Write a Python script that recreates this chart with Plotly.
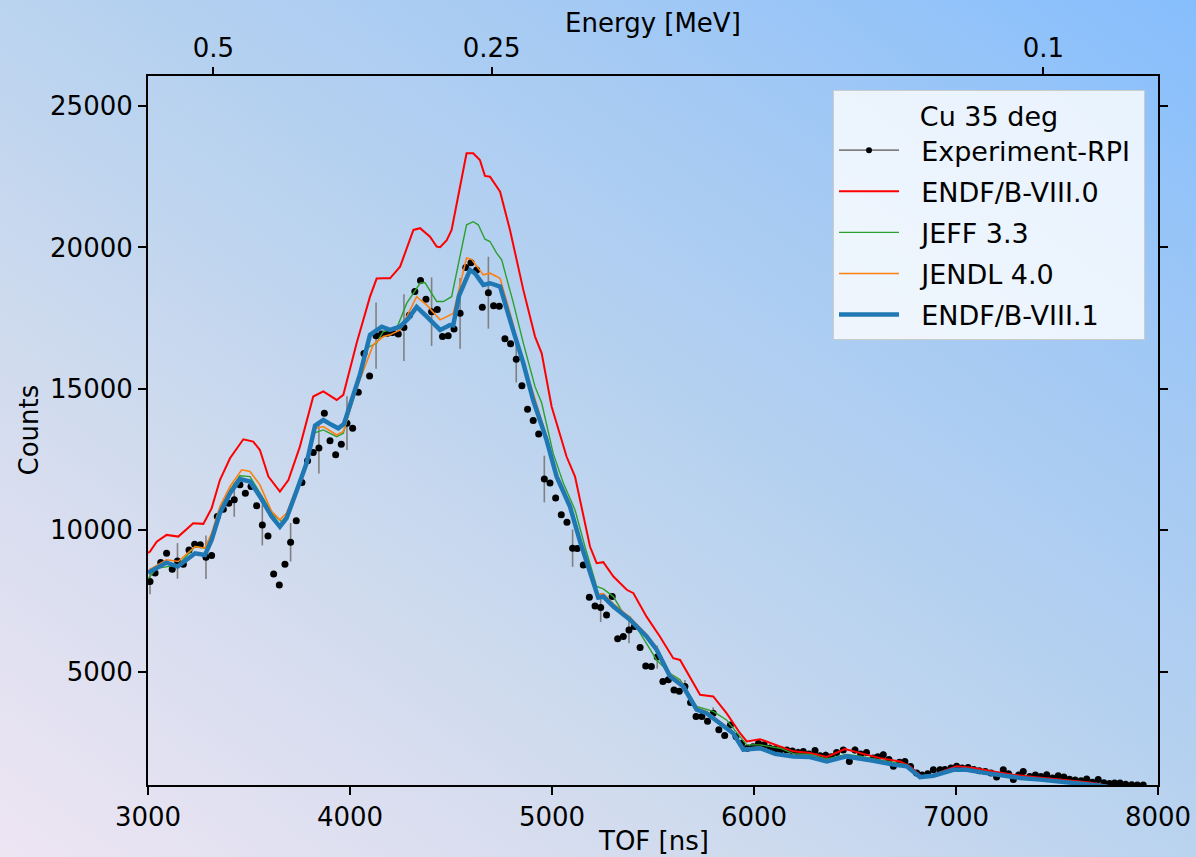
import base64
import numpy as np
import plotly.graph_objects as go

# ---------------- data ----------------
exp_tof = [
    3010, 3035, 3063, 3092, 3120, 3146, 3175, 3203, 3231, 3259,
    3287, 3315, 3343, 3373, 3400, 3427, 3455, 3482, 3510, 3538,
    3566, 3594, 3622, 3650, 3678, 3706, 3734, 3762, 3790, 3818,
    3846, 3873, 3901, 3929, 3957, 3985, 4013, 4041, 4069, 4097,
    4129, 4157, 4185, 4211, 4239, 4267, 4294, 4321, 4349, 4376,
    4404, 4432, 4458, 4486, 4515, 4545, 4573, 4599, 4627, 4655,
    4685, 4711, 4739, 4767, 4795, 4823, 4851, 4879, 4907, 4934,
    4962, 4990, 5018, 5046, 5074, 5102, 5125, 5155, 5185, 5213,
    5241, 5270, 5298, 5325, 5353, 5381, 5408, 5436, 5464, 5492,
    5521, 5549, 5576, 5604, 5630, 5658, 5686, 5713, 5742, 5770,
    5798, 5826, 5855, 5883, 5911, 5939, 5967, 5995, 6022, 6050,
    6078, 6104, 6133, 6162, 6190, 6218, 6244, 6272, 6302, 6327,
    6355, 6383, 6409, 6442, 6472, 6500, 6528, 6557, 6591, 6613,
    6640, 6668, 6690, 6720, 6747, 6775, 6805, 6832, 6860, 6888,
    6921, 6945, 6975, 7003, 7030, 7060, 7088, 7115, 7145, 7173,
    7201, 7234, 7260, 7284, 7310, 7333, 7365, 7393, 7420, 7449,
    7478, 7506, 7534, 7562, 7590, 7619, 7647, 7675, 7704, 7732,
    7760, 7785, 7812, 7840, 7870, 7898, 7927,
]
exp_counts = [
    8190, 8490, 8860, 9190, 8630, 8920, 8800, 9310, 9510, 9490,
    9050, 9110, 10490, 10750, 10960, 11080, 11610, 11310, 11550, 10870,
    10190, 9800, 8460, 8070, 8800, 9580, 10340, 11690, 12460, 12750,
    12910, 14140, 13170, 12670, 13040, 13790, 13610, 14880, 16250, 15460,
    16880, 16940, 16970, 16990, 16940, 17170, 17600, 18440, 18830, 18170,
    17730, 17810, 16850, 16880, 17120, 17670, 19290, 19460, 19200, 17890,
    18400, 17940, 17920, 16770, 16600, 16050, 15110, 14280, 13880, 13410,
    11815, 11670, 11140, 10550, 10290, 9370, 9360, 8780, 7640, 7330,
    7270, 7010, 7660, 6170, 6250, 6480, 6600, 5860, 5210, 5190,
    5520, 4660, 4720, 4360, 4310, 4480, 3920, 3420, 3420, 3250,
    3540, 2950, 2750, 3120, 2710, 2470, 2300, 2350, 2470, 2420,
    2300, 2270, 2250, 2240, 2200, 2150, 2180, 2100, 2220, 2030,
    2050, 2000, 2150, 2240, 1830, 2240, 2100, 2150, 1950, 2000,
    2070, 1900, 1660, 1800, 1830, 1650, 1420, 1350, 1400, 1540,
    1540, 1550, 1600, 1660, 1600, 1620, 1550, 1500, 1480, 1420,
    1280, 1540, 1400, 1190, 1350, 1480, 1300, 1350, 1300, 1360,
    1250, 1330, 1280, 1200, 1180, 1150, 1210, 1100, 1190, 1080,
    1050, 1070, 1070, 1030, 1010, 1000, 1000,
]
# error bars drawn on every fifth point (TOF -> half-length in counts)
exp_err_at = {
    3010: 450, 3146: 630, 3287: 770, 3427: 600, 3566: 720, 3706: 680,
    3846: 900, 3985: 950, 4129: 1170, 4267: 1180, 4404: 1210, 4545: 1250,
    4685: 1270, 4823: 825, 4962: 825, 5102: 660, 5241: 510, 5381: 470,
    5521: 410, 5658: 235, 5798: 205, 5939: 160, 6078: 150, 6218: 140,
    6355: 140, 6500: 140, 6640: 130, 6775: 120, 6921: 120, 7060: 120,
    7201: 110, 7333: 110, 7478: 100, 7619: 100, 7760: 100, 7898: 90,
}

endf80_tof = [
    3000, 3010, 3043, 3092, 3150, 3224, 3274, 3315, 3356, 3406,
    3472, 3521, 3554, 3596, 3653, 3695, 3752, 3818, 3868, 3934,
    3967, 4033, 4099, 4132, 4165, 4198, 4248, 4314, 4347, 4396,
    4429, 4446, 4479, 4503, 4577, 4610, 4643, 4668, 4693, 4743,
    4792, 4858, 4916, 4949, 4998, 5072, 5114, 5188, 5221, 5254,
    5304, 5370, 5403, 5468, 5534, 5600, 5634, 5733, 5798, 5864,
    5931, 5964, 6030, 6096, 6195, 6277, 6360, 6450, 6525, 6624,
    6723, 6772, 6830, 6888, 7003, 7086, 7185, 7284, 7383, 7482,
    7581, 7663, 7746, 7850,
]
endf80 = [
    9200, 9250, 9600, 9840, 9780, 10250, 10230, 10780, 11780, 12550,
    13220, 13140, 12840, 11900, 11370, 11780, 12960, 14730, 14910, 14610,
    14790, 16620, 18260, 18900, 18910, 18910, 19320, 20620, 20680, 20380,
    20030, 20010, 20260, 20620, 23330, 23330, 23090, 22530, 22500, 21970,
    20620, 18500, 16850, 16260, 14380, 12610, 11900, 9430, 8840, 8875,
    8370, 7900, 7780, 6950, 6250, 5480, 5420, 4190, 4130, 3540,
    2830, 2540, 2620, 2450, 2190, 2130, 1990, 2270, 2130, 1950,
    1830, 1660, 1300, 1360, 1660, 1600, 1480, 1360, 1280, 1210,
    1150, 1090, 970, 900,
]

jeff_tof = [
    3000, 3010, 3043, 3092, 3150, 3233, 3282, 3315, 3356, 3406,
    3455, 3505, 3554, 3620, 3661, 3695, 3736, 3785, 3818, 3868,
    3934, 3967, 4033, 4082, 4132, 4165, 4231, 4281, 4347, 4371,
    4429, 4462, 4503, 4577, 4610, 4635, 4668, 4693, 4726, 4751,
    4809, 4858, 4916, 4949, 5006, 5056, 5114, 5163, 5221, 5254,
    5304, 5353, 5386, 5468, 5518, 5584, 5634, 5716, 5798, 5864,
    5931, 5964, 6030, 6129, 6195, 6277, 6360, 6458, 6525, 6591,
    6690, 6756, 6822, 6888, 6987, 7052, 7151, 7234, 7317, 7416,
    7515, 7614, 7680, 7750,
]
jeff = [
    8300, 8370, 8660, 8720, 8780, 9430, 9370, 9780, 10720, 11430,
    11930, 11900, 11310, 10550, 10310, 10600, 11400, 12300, 13430, 13550,
    13310, 13430, 15080, 16440, 16620, 17030, 17140, 18030, 18735, 18760,
    18090, 18090, 18260, 20800, 20910, 20800, 20290, 20210, 19800, 19560,
    18030, 16620, 15080, 14500, 12720, 11670, 10720, 9430, 8020, 7930,
    7660, 7070, 6950, 6010, 5420, 4950, 4720, 3780, 3600, 3300,
    2720, 2420, 2420, 2300, 2110, 2080, 1920, 2080, 2020, 1930,
    1780, 1710, 1320, 1370, 1570, 1570, 1450, 1360, 1280, 1210,
    1150, 1090, 1020, 960,
]

jendl_tof = [
    3000, 3010, 3092, 3150, 3233, 3282, 3315, 3356, 3406, 3464,
    3505, 3554, 3612, 3653, 3686, 3736, 3785, 3827, 3868, 3934,
    3967, 4033, 4115, 4165, 4198, 4248, 4330, 4379, 4446, 4511,
    4577, 4602, 4660, 4693, 4743, 4807, 4825, 4907, 4973, 5023,
    5089, 5139, 5188, 5229, 5254, 5304, 5386, 5468, 5518, 5584,
    5650, 5716, 5765, 5831, 5897, 5947, 6030, 6104, 6195, 6277,
    6360, 6458, 6525, 6591, 6690, 6756, 6822, 6888, 6987, 7052,
    7151, 7234, 7317, 7416, 7515, 7614, 7680, 7750,
]
jendl = [
    8500, 8620, 8960, 8900, 9430, 9370, 9900, 10840, 11550, 12140,
    12080, 11610, 10670, 10370, 10610, 11500, 12400, 13600, 13670, 13370,
    13500, 15020, 16560, 16850, 16910, 17085, 18260, 17970, 17440, 17670,
    19630, 19580, 19030, 19090, 18910, 17300, 16730, 14850, 13300, 12000,
    10950, 9700, 8600, 7720, 7760, 7400, 6930, 6330, 5860, 4920,
    4550, 3720, 3600, 3240, 2880, 2290, 2340, 2140, 2050, 2030,
    1870, 2040, 1980, 1890, 1750, 1690, 1300, 1350, 1560, 1560,
    1440, 1350, 1270, 1210, 1150, 1090, 1020, 960,
]

endf81_tof = [
    3000, 3010, 3050, 3092, 3147, 3190, 3233, 3282, 3315, 3356,
    3406, 3455, 3505, 3554, 3612, 3653, 3686, 3736, 3785, 3827,
    3868, 3909, 3942, 3970, 4016, 4049, 4099, 4157, 4198, 4248,
    4290, 4330, 4379, 4446, 4495, 4511, 4540, 4594, 4618, 4660,
    4693, 4743, 4807, 4858, 4907, 4973, 5023, 5089, 5139, 5188,
    5229, 5254, 5304, 5386, 5468, 5518, 5584, 5650, 5716, 5765,
    5831, 5897, 5947, 6030, 6104, 6195, 6277, 6360, 6458, 6525,
    6591, 6690, 6756, 6822, 6888, 6987, 7052, 7151, 7234, 7317,
    7416, 7515, 7614, 7680, 7750,
]
endf81 = [
    8500, 8540, 8700, 8860, 8720, 8950, 9190, 9130, 9660, 10610,
    11310, 11810, 11725, 11200, 10490, 10130, 10430, 11400, 12370, 13700,
    13900, 13730, 13610, 13760, 14800, 15500, 16910, 17200, 17085, 17200,
    17500, 17900, 17560, 17085, 17260, 17250, 18300, 19200, 19090, 18675,
    18735, 18615, 17085, 15910, 14600, 13200, 11900, 10840, 9600, 8500,
    7620, 7660, 7310, 6840, 6250, 5780, 4840, 4480, 3660, 3540,
    3190, 2830, 2250, 2300, 2100, 2010, 1990, 1830, 2010, 1950,
    1860, 1720, 1660, 1280, 1330, 1540, 1540, 1420, 1330, 1250,
    1190, 1130, 1070, 1000, 940,
]

# top axis: neutron energy (MeV); TOF = sqrt(C / E)
FLIGHT_CONST = 5.525e6   # ns^2 * MeV
energy_ticks = [0.5, 0.25, 0.1]
energy_labels = ["0.5", "0.25", "0.1"]

x_ticks = [3000, 4000, 5000, 6000, 7000, 8000]
y_ticks = [5000, 10000, 15000, 20000, 25000]

legend_title = "Cu 35 deg"
series_names = ["Experiment-RPI", "ENDF/B-VIII.0", "JEFF 3.3", "JENDL 4.0", "ENDF/B-VIII.1"]

# ---------------- figure ----------------
W, H = 1196, 857
L, R, T, B = 148, 38, 76, 72
pw, ph = W - L - R, H - T - B
FONT = "DejaVu Sans"
FS = 26
LFS = 27
NB = "\u00a0"

def lab(s):
    return NB * 2 + s + NB


err = [exp_err_at.get(t, 0) for t in exp_tof]

fig = go.Figure()
fig.add_trace(go.Scatter(
    x=exp_tof, y=exp_counts, mode="markers", showlegend=False,
    marker=dict(color="black", size=7),
    error_y=dict(type="data", array=err, visible=True, color="#808080",
                 thickness=1.6, width=0),
))
fig.add_trace(go.Scatter(
    x=[None], y=[None], mode="lines+markers", name=lab(series_names[0]),
    legendgroup="a",
    line=dict(color="#808080", width=1.6), marker=dict(color="black", size=6),
))
fig.add_trace(go.Scatter(x=endf80_tof, y=endf80, mode="lines", name=lab(series_names[1]),
                         legendgroup="b", line=dict(color="#ff0000", width=2)))
fig.add_trace(go.Scatter(x=jeff_tof, y=jeff, mode="lines", name=lab(series_names[2]),
                         legendgroup="c", line=dict(color="#2ca02c", width=1.4)))
fig.add_trace(go.Scatter(x=jendl_tof, y=jendl, mode="lines", name=lab(series_names[3]),
                         legendgroup="d", line=dict(color="#ff7f0e", width=1.6)))
fig.add_trace(go.Scatter(x=endf81_tof, y=endf81, mode="lines", name=lab(series_names[4]),
                         legendgroup="e", line=dict(color="#1f77b4", width=4.5)))

# gradient background as an SVG image
svg = (
    '<svg xmlns="http://www.w3.org/2000/svg" width="1196" height="857" '
    'viewBox="0 0 1196 857" preserveAspectRatio="none">'
    '<defs><linearGradient id="g" x1="0" y1="1" x2="1" y2="0">'
    '<stop offset="0" stop-color="#eee5f3"/>'
    '<stop offset="0.3" stop-color="#d0dbee"/>'
    '<stop offset="0.5" stop-color="#bad3ef"/>'
    '<stop offset="0.75" stop-color="#a3c9f4"/>'
    '<stop offset="1" stop-color="#86befd"/>'
    '</linearGradient></defs>'
    '<rect x="0" y="0" width="1196" height="857" fill="url(#g)"/></svg>'
)
src = "data:image/svg+xml;base64," + base64.b64encode(svg.encode()).decode()

axis_common = dict(
    showgrid=False, zeroline=False, ticks="outside", ticklen=8, tickwidth=1.6,
    tickcolor="black", tickfont=dict(family=FONT, size=FS, color="black"),
    automargin=False,
)

e_pos = [float(np.sqrt(FLIGHT_CONST / e)) for e in energy_ticks]

fig.update_layout(
    width=W, height=H, autosize=False,
    margin=dict(l=L, r=R, t=T, b=B, pad=0),
    paper_bgcolor="#c3d6ee", plot_bgcolor="rgba(0,0,0,0)",
    font=dict(family=FONT, size=FS, color="black"),
    images=[dict(source=src, xref="paper", yref="paper",
                 x=-L / pw, y=1 + T / ph, sizex=W / pw, sizey=H / ph,
                 xanchor="left", yanchor="top", sizing="stretch", layer="below")],
    xaxis=dict(range=[3000, 8000], tickmode="array", tickvals=x_ticks,
               ticktext=[str(v) for v in x_ticks], showline=True,
               linewidth=2, linecolor="black", mirror=True, **axis_common),
    xaxis2=dict(range=[3000, 8000], overlaying="x", side="top", anchor="y",
                tickmode="array", tickvals=e_pos, ticktext=energy_labels,
                showline=False, **axis_common),
    yaxis=dict(range=[1000, 26060], tickmode="array", tickvals=y_ticks,
               ticktext=[str(v) for v in y_ticks], showline=True,
               linewidth=2, linecolor="black", mirror="ticks", **axis_common),
    legend=dict(
        x=(1145 - L) / pw, xanchor="right", y=(H - B - 90) / ph, yanchor="top",
        bgcolor="rgba(255,255,255,0.8)", bordercolor="#cccccc", borderwidth=1,
        font=dict(family=FONT, size=LFS, color="black"),
        title=dict(text=legend_title, side="top center",
                   font=dict(family=FONT, size=LFS, color="black")),
        itemwidth=60, tracegroupgap=3, traceorder="grouped",
    ),
    annotations=[
        dict(text="TOF [ns]", xref="paper", yref="paper", x=0.5, y=(H - B - 841) / ph,
             xanchor="center", yanchor="middle", showarrow=False,
             font=dict(family=FONT, size=FS, color="black")),
        dict(text="Energy [MeV]", xref="paper", yref="paper", x=0.5, y=(H - B - 23) / ph,
             xanchor="center", yanchor="middle", showarrow=False,
             font=dict(family=FONT, size=FS, color="black")),
        dict(text="Counts", xref="paper", yref="paper", x=(28 - L) / pw, y=0.5,
             xanchor="center", yanchor="middle", showarrow=False, textangle=-90,
             font=dict(family=FONT, size=FS, color="black")),
    ],
)
# dummy trace so the top axis is drawn
fig.add_trace(go.Scatter(x=[None], y=[None], xaxis="x2", showlegend=False,
                         hoverinfo="skip"))

fig.write_html("out.html")
